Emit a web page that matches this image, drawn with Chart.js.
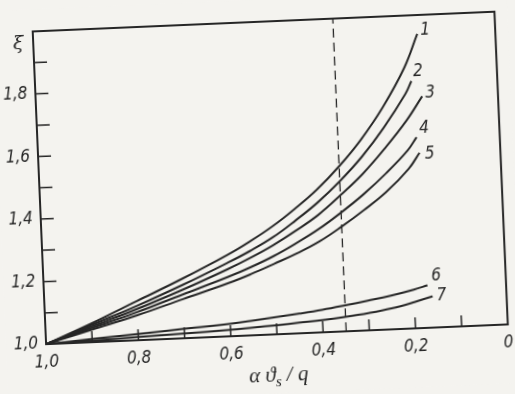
<!DOCTYPE html>
<html>
<head>
<meta charset="utf-8">
<script src="https://cdn.jsdelivr.net/npm/chart.js@4.4.0/dist/chart.umd.min.js"></script>
<style>
  html, body { margin: 0; padding: 0; background: #f4f3ef; overflow: hidden; }
  /* the scanned figure sits slightly tilted on the page */
  #xi-chart { display: block; transform: rotate(-2.45deg); transform-origin: 50% 50%; }
</style>
</head>
<body>
<canvas id="xi-chart" width="515" height="394"></canvas>
<script>
// x values shared by all curves (axis runs 1,0 -> 0 left to right)
const xPoints = [1.0, 0.9, 0.8, 0.7, 0.6, 0.55, 0.5, 0.45, 0.4, 0.35, 0.3, 0.25, 0.2];
// x value where each curve stops
const curveEnds = [0.169, 0.186, 0.164, 0.18, 0.175, 0.17, 0.16];
const curveNames = ['1', '2', '3', '4', '5', '6', '7'];

// xi values at xPoints, last value is at the curve end
const curve1 = [1.0, 1.06, 1.125, 1.19, 1.26, 1.30, 1.345, 1.398, 1.457, 1.528, 1.611, 1.711, 1.834, 1.94];
const curve2 = [1.0, 1.055, 1.11, 1.17, 1.235, 1.27, 1.31, 1.36, 1.415, 1.48, 1.555, 1.645, 1.75, 1.79];
const curve3 = [1.0, 1.05, 1.10, 1.155, 1.215, 1.248, 1.285, 1.328, 1.375, 1.435, 1.50, 1.578, 1.665, 1.74];
const curve4 = [1.0, 1.045, 1.09, 1.14, 1.19, 1.218, 1.25, 1.288, 1.33, 1.38, 1.435, 1.498, 1.57, 1.61];
const curve5 = [1.0, 1.04, 1.08, 1.125, 1.17, 1.196, 1.225, 1.255, 1.29, 1.335, 1.385, 1.44, 1.51, 1.56];
const curve6 = [1.0, 1.01, 1.02, 1.03, 1.04, 1.047, 1.055, 1.063, 1.072, 1.083, 1.095, 1.108, 1.124, 1.136];
const curve7 = [1.0, 1.005, 1.01, 1.015, 1.021, 1.025, 1.029, 1.034, 1.039, 1.046, 1.055, 1.067, 1.084, 1.10];
const curves = [curve1, curve2, curve3, curve4, curve5, curve6, curve7];

// vertical dashed marker
const markerX = 0.35;
const markerY = [1.0, 2.0];

// tick labels (comma decimals as in the original)
const xTickValues = [1.0, 0.8, 0.6, 0.4, 0.2, 0];
const xTickLabels = ['1,0', '0,8', '0,6', '0,4', '0,2', '0'];
const yTickValues = [1.0, 1.2, 1.4, 1.6, 1.8];
const yTickLabels = ['1,0', '1,2', '1,4', '1,6', '1,8'];

const ink = '#262626';
const paper = '#f4f3ef';
const numFont = '"Liberation Sans Narrow", "DejaVu Sans Condensed", "Liberation Sans", sans-serif';

function labelFor(values, labels, v) {
  const i = values.findIndex(t => Math.abs(t - v) < 1e-6);
  return i < 0 ? '' : labels[i];
}

const datasets = curves.map((ys, i) => ({
  label: curveNames[i],
  data: ys.map((y, j) => ({ x: j < xPoints.length ? xPoints[j] : curveEnds[i], y: y })),
  borderColor: ink,
  borderWidth: 2,
  pointRadius: 0,
  fill: false,
  tension: 0.4
}));
datasets.push({
  label: 'marker',
  data: markerY.map(y => ({ x: markerX, y: y })),
  borderColor: ink,
  borderWidth: 1.3,
  borderDash: [9, 5],
  pointRadius: 0,
  fill: false
});

// frame, inward tick marks, axis symbols and curve numbers
const decorations = {
  id: 'decorations',
  beforeDraw(chart) {
    const ctx = chart.ctx;
    ctx.save();
    ctx.fillStyle = paper;
    ctx.fillRect(0, 0, chart.width, chart.height);
    ctx.restore();
  },
  afterDraw(chart) {
    const { ctx, chartArea: a, scales } = chart;
    const x = scales.x, y = scales.y;
    ctx.save();
    ctx.strokeStyle = ink;
    ctx.lineWidth = 2;
    ctx.strokeRect(a.left, a.top, a.right - a.left, a.bottom - a.top);

    ctx.lineWidth = 1.5;
    ctx.beginPath();
    x.ticks.forEach(t => {
      const px = x.getPixelForValue(t.value);
      if (px < a.left + 2 || px > a.right - 2) return;
      ctx.moveTo(px, a.bottom);
      ctx.lineTo(px, a.bottom - 11);
    });
    y.ticks.forEach(t => {
      const py = y.getPixelForValue(t.value);
      if (py < a.top + 2 || py > a.bottom - 2) return;
      ctx.moveTo(a.left, py);
      ctx.lineTo(a.left + 13, py);
    });
    ctx.stroke();

    ctx.fillStyle = ink;
    ctx.textBaseline = 'middle';
    ctx.textAlign = 'center';
    ctx.font = 'italic 19px "DejaVu Serif", serif';
    ctx.fillText('ξ', a.left - 15, y.getPixelForValue(1.96));

    // x axis title: alpha theta_s / q
    const base = a.bottom + 47;
    const big = 'italic 21px "Liberation Serif", serif';
    const small = 'italic 15px "Liberation Serif", serif';
    ctx.textBaseline = 'alphabetic';
    ctx.textAlign = 'left';
    ctx.font = big;
    const w1 = ctx.measureText('α ϑ').width;
    const w3 = ctx.measureText(' / q').width;
    ctx.font = small;
    const w2 = ctx.measureText('s').width;
    let tx = (a.left + a.right) / 2 - (w1 + w2 + w3) / 2;
    ctx.font = big;
    ctx.fillText('α ϑ', tx, base);
    tx += w1;
    ctx.font = small;
    ctx.fillText('s', tx, base + 5);
    tx += w2;
    ctx.font = big;
    ctx.fillText(' / q', tx, base);

    // curve numbers next to the curve ends
    const offsets = [[8, -3], [7, -9], [8, -3], [8, -8], [10, 2], [9, -9], [9, 0]];
    ctx.font = 'italic 17px ' + numFont;
    ctx.textAlign = 'center';
    ctx.textBaseline = 'middle';
    chart.data.datasets.forEach((ds, i) => {
      if (i >= curveNames.length) return;
      const last = ds.data[ds.data.length - 1];
      ctx.fillText(ds.label, x.getPixelForValue(last.x) + offsets[i][0], y.getPixelForValue(last.y) + offsets[i][1]);
    });
    ctx.restore();
  }
};

const ctx = document.getElementById('xi-chart').getContext('2d');
const xiChart = new Chart(ctx, {
  type: 'line',
  data: { datasets: datasets },
  options: {
    responsive: false,
    animation: false,
    devicePixelRatio: 1,
    layout: { padding: { top: 22, right: 10, left: 0, bottom: 0 } },
    plugins: { legend: { display: false }, tooltip: { enabled: false } },
    scales: {
      x: {
        type: 'linear',
        reverse: true,
        min: 0,
        max: 1,
        afterFit: s => { s.height = 59; },
        grid: { display: false, drawTicks: false },
        border: { display: false },
        ticks: {
          stepSize: 0.1,
          autoSkip: false,
          maxRotation: 0,
          padding: 8,
          color: ink,
          font: { family: numFont, size: 17, style: 'italic' },
          callback: v => labelFor(xTickValues, xTickLabels, v)
        }
      },
      y: {
        min: 1.0,
        max: 2.0,
        afterFit: s => { s.width = 40; },
        grid: { display: false, drawTicks: false },
        border: { display: false },
        ticks: {
          stepSize: 0.1,
          autoSkip: false,
          padding: 8,
          color: ink,
          font: { family: numFont, size: 17, style: 'italic' },
          callback: v => labelFor(yTickValues, yTickLabels, v)
        }
      }
    }
  },
  plugins: [decorations]
});
</script>
</body>
</html>
